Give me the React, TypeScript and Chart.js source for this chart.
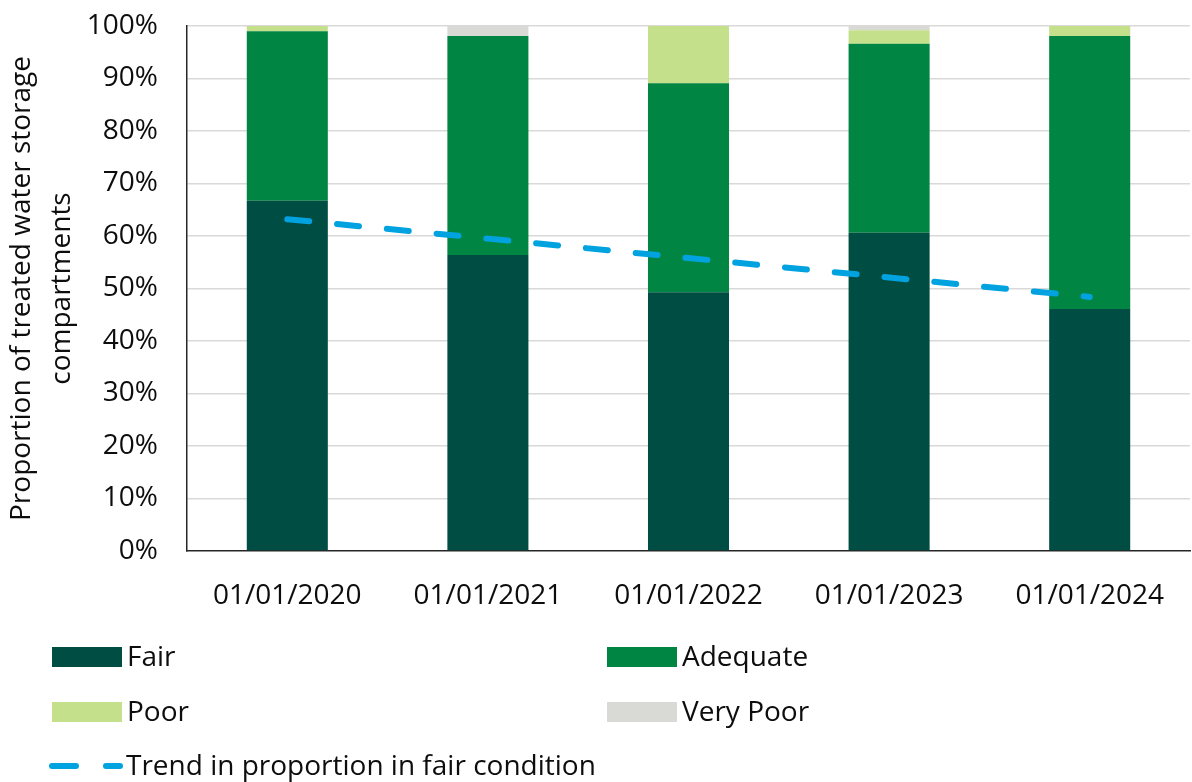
import React, { useEffect, useRef } from "react";
import { Chart, registerables } from "chart.js";

Chart.register(...registerables);

// Survey dates
const categories = ["01/01/2020", "01/01/2021", "01/01/2022", "01/01/2023", "01/01/2024"];

// Share of compartments in each condition grade (%)
const fair = [66.7, 56.4, 49.3, 60.6, 46.1];
const adequate = [32.3, 41.7, 39.8, 36.0, 52.0];
const poor = [1.0, 0, 10.9, 2.6, 1.9];
const veryPoor = [0, 1.9, 0, 0.8, 0];

// Linear trend of the fair share (%)
const fairTrend = [63.2, 59.5, 55.8, 52.1, 48.4];

const yTicks = [0, 10, 20, 30, 40, 50, 60, 70, 80, 90, 100];

const COLORS = {
  fair: "#004D43",
  adequate: "#008542",
  poor: "#C5E08A",
  veryPoor: "#D9D9D6",
  trend: "#00A3E0",
};

const FONT = '"Open Sans", sans-serif';
const W = 1192;
const H = 782;

// Two-column legend drawn beneath the plot
const legendPlugin = {
  id: "bottomLegend",
  afterDraw(chart: any) {
    const ctx = chart.ctx as CanvasRenderingContext2D;
    ctx.save();
    ctx.font = `28px ${FONT}`;
    ctx.textBaseline = "middle";
    ctx.textAlign = "left";
    const boxes = [
      { label: "Fair", color: COLORS.fair, x: 52, y: 657 },
      { label: "Adequate", color: COLORS.adequate, x: 607, y: 657 },
      { label: "Poor", color: COLORS.poor, x: 52, y: 712 },
      { label: "Very Poor", color: COLORS.veryPoor, x: 607, y: 712 },
    ];
    for (const b of boxes) {
      ctx.fillStyle = b.color;
      ctx.fillRect(b.x, b.y - 10, 70, 20);
      ctx.fillStyle = "#0d0d0d";
      ctx.fillText(b.label, b.x + 75, b.y + 1);
    }
    // dashed trend symbol
    const ty = 766;
    ctx.strokeStyle = COLORS.trend;
    ctx.lineWidth = 6;
    ctx.lineCap = "round";
    ctx.beginPath();
    ctx.moveTo(52, ty);
    ctx.lineTo(76, ty);
    ctx.moveTo(106, ty);
    ctx.lineTo(120, ty);
    ctx.stroke();
    ctx.fillStyle = "#0d0d0d";
    ctx.fillText("Trend in proportion in fair condition", 126, ty + 1);
    ctx.restore();
  },
};

export default function App() {
  const canvasRef = useRef<HTMLCanvasElement | null>(null);

  useEffect(() => {
    document.body.style.margin = "0";
    const canvas = canvasRef.current;
    if (!canvas) return;

    const chart = new Chart(canvas, {
      type: "bar",
      data: {
        labels: categories,
        datasets: [
          {
            type: "line",
            label: "Trend in proportion in fair condition",
            data: fairTrend,
            borderColor: COLORS.trend,
            borderWidth: 6,
            borderDash: [22, 28],
            borderCapStyle: "round",
            pointRadius: 0,
            fill: false,
            tension: 0,
            order: 0,
            stack: "trend",
          } as any,
          { label: "Fair", data: fair, backgroundColor: COLORS.fair, order: 1, stack: "grade" },
          { label: "Adequate", data: adequate, backgroundColor: COLORS.adequate, order: 1, stack: "grade" },
          { label: "Poor", data: poor, backgroundColor: COLORS.poor, order: 1, stack: "grade" },
          { label: "Very Poor", data: veryPoor, backgroundColor: COLORS.veryPoor, order: 1, stack: "grade" },
        ],
      },
      options: {
        responsive: false,
        animation: false,
        devicePixelRatio: 1,
        layout: { padding: { top: 26, right: 2, left: 0, bottom: 0 } },
        datasets: {
          bar: { categoryPercentage: 1, barPercentage: 0.404, borderWidth: 0 },
        },
        plugins: {
          legend: { display: false },
          tooltip: { enabled: false },
        },
        scales: {
          x: {
            stacked: true,
            grid: { display: false },
            border: { display: true, color: "#262626", width: 1.5 },
            ticks: {
              color: "#0d0d0d",
              font: { family: FONT, size: 28 },
              padding: 20,
              maxRotation: 0,
            },
            afterFit(scale: any) {
              scale.height = H - 551;
              scale.paddingLeft = 0;
              scale.paddingRight = 0;
            },
          },
          y: {
            stacked: true,
            min: 0,
            max: 100,
            afterBuildTicks(scale: any) {
              scale.ticks = yTicks.map((v) => ({ value: v }));
            },
            grid: {
              color: (c: any) => (c.tick && c.tick.value === 0 ? "rgba(0,0,0,0)" : "#d9d9d9"),
              lineWidth: 1.5,
              drawTicks: false,
            },
            border: { display: true, color: "#262626", width: 1.5 },
            ticks: {
              color: "#0d0d0d",
              font: { family: FONT, size: 28 },
              padding: 29,
              callback: (v: any) => `${v}%`,
            },
            title: {
              display: true,
              text: ["Proportion of treated water storage", "compartments"],
              color: "#0d0d0d",
              font: { family: FONT, size: 28, lineHeight: 1.43 },
              padding: { top: 2, bottom: 0 },
            },
            afterFit(scale: any) {
              scale.width = 187;
              scale.paddingTop = 0;
              scale.paddingBottom = 0;
            },
          },
        },
      },
      plugins: [legendPlugin],
    });

    return () => chart.destroy();
  }, []);

  return (
    <div style={{ width: W, height: H, position: "relative", background: "#fff" }}>
      <canvas ref={canvasRef} width={W} height={H} style={{ width: W, height: H, display: "block" }} />
    </div>
  );
}
